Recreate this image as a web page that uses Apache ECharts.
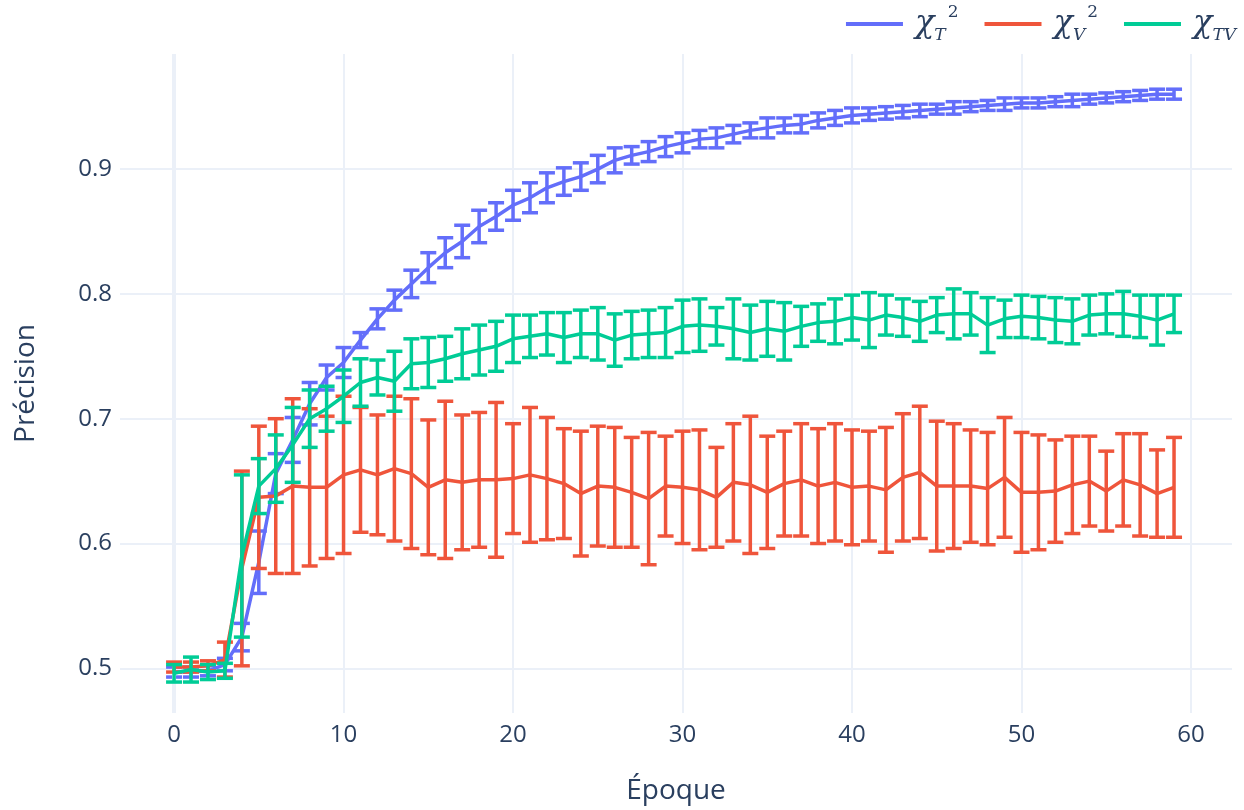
<!DOCTYPE html>
<html><head><meta charset="utf-8">
<script src="https://cdn.jsdelivr.net/npm/echarts@6/dist/echarts.min.js"></script>
<style>html,body{margin:0;padding:0;background:#fff}#c{width:1244px;height:810px}</style>
</head><body><div id="c"></div>
<script>
const epochs = [0,1,2,3,4,5,6,7,8,9,10,11,12,13,14,15,16,17,18,19,20,21,22,23,24,25,26,27,28,29,30,31,32,33,34,35,36,37,38,39,40,41,42,43,44,45,46,47,48,49,50,51,52,53,54,55,56,57,58,59];
const xTicks = [0,10,20,30,40,50,60];
const yTicks = [0.5,0.6,0.7,0.8,0.9];

const meanT2 = [0.497,0.497,0.498,0.503,0.525,0.585,0.656,0.683,0.712,0.733,0.745,0.763,0.780,0.795,0.808,0.821,0.833,0.842,0.854,0.862,0.871,0.877,0.885,0.890,0.894,0.900,0.907,0.911,0.914,0.918,0.921,0.924,0.925,0.928,0.931,0.933,0.935,0.936,0.939,0.941,0.943,0.944,0.945,0.946,0.947,0.948,0.949,0.950,0.951,0.952,0.953,0.953,0.954,0.955,0.956,0.957,0.958,0.959,0.960,0.960];
const errT2 = [0.004,0.004,0.004,0.005,0.011,0.025,0.016,0.018,0.017,0.010,0.012,0.006,0.008,0.008,0.011,0.012,0.012,0.013,0.013,0.011,0.012,0.012,0.012,0.011,0.011,0.011,0.010,0.007,0.008,0.008,0.008,0.007,0.008,0.007,0.006,0.008,0.006,0.007,0.006,0.006,0.006,0.005,0.005,0.005,0.005,0.004,0.005,0.004,0.004,0.005,0.004,0.004,0.004,0.005,0.004,0.004,0.004,0.004,0.004,0.004];

const meanV2 = [0.501,0.501,0.502,0.507,0.580,0.637,0.638,0.646,0.645,0.645,0.655,0.659,0.655,0.660,0.656,0.645,0.651,0.649,0.651,0.651,0.652,0.655,0.652,0.648,0.640,0.646,0.645,0.641,0.636,0.646,0.645,0.643,0.637,0.649,0.647,0.641,0.648,0.651,0.646,0.649,0.645,0.646,0.643,0.653,0.657,0.646,0.646,0.646,0.644,0.653,0.641,0.641,0.642,0.647,0.650,0.642,0.651,0.647,0.640,0.645];
const errV2 = [0.004,0.004,0.004,0.014,0.078,0.057,0.062,0.070,0.063,0.057,0.063,0.050,0.048,0.058,0.060,0.054,0.063,0.054,0.054,0.062,0.044,0.054,0.049,0.044,0.050,0.048,0.048,0.044,0.053,0.040,0.045,0.048,0.040,0.047,0.055,0.045,0.042,0.045,0.046,0.047,0.046,0.044,0.050,0.051,0.053,0.052,0.050,0.045,0.045,0.048,0.048,0.046,0.041,0.039,0.036,0.032,0.037,0.041,0.035,0.040];

const meanTV = [0.496,0.499,0.497,0.498,0.590,0.646,0.660,0.679,0.700,0.708,0.718,0.729,0.733,0.730,0.744,0.745,0.748,0.752,0.755,0.758,0.764,0.766,0.768,0.765,0.768,0.768,0.763,0.767,0.768,0.769,0.774,0.775,0.774,0.772,0.769,0.772,0.770,0.774,0.777,0.778,0.781,0.779,0.783,0.781,0.778,0.783,0.784,0.784,0.775,0.780,0.782,0.781,0.779,0.778,0.783,0.784,0.784,0.782,0.779,0.784];
const errTV = [0.007,0.010,0.006,0.006,0.065,0.022,0.027,0.030,0.023,0.018,0.021,0.019,0.014,0.024,0.020,0.020,0.018,0.020,0.020,0.020,0.019,0.017,0.017,0.020,0.019,0.021,0.021,0.019,0.019,0.020,0.021,0.021,0.015,0.024,0.022,0.022,0.023,0.016,0.015,0.018,0.018,0.022,0.016,0.015,0.016,0.014,0.020,0.017,0.022,0.015,0.017,0.017,0.018,0.018,0.016,0.016,0.018,0.017,0.020,0.015];

const names = ['T2','V2','TV'];
const colors = ['#636efa','#EF553B','#00cc96'];
const means = [meanT2, meanV2, meanTV];
const errs = [errT2, errV2, errTV];

const FONT = '"Open Sans", "Noto Sans", sans-serif';
const MATH = '"DejaVu Serif", serif';
const TXT = '#2a3f5f';
const GRID = '#EBF0F8';
const LW = 3.5;

function errRender(color){
  return function(params, api){
    const x = api.value(0), lo = api.value(1), hi = api.value(2);
    const p1 = api.coord([x, hi]), p2 = api.coord([x, lo]);
    const hw = 8;
    const style = {stroke: color, lineWidth: LW, fill: null};
    return {type:'group', children:[
      {type:'line', shape:{x1:p1[0],y1:p1[1],x2:p2[0],y2:p2[1]}, style: style},
      {type:'line', shape:{x1:p1[0]-hw,y1:p1[1],x2:p1[0]+hw,y2:p1[1]}, style: style},
      {type:'line', shape:{x1:p2[0]-hw,y1:p2[1],x2:p2[0]+hw,y2:p2[1]}, style: style}
    ]};
  };
}

const series = [{
  name: 'zero', type: 'line', data: [], silent: true, z: 1,
  markLine: {silent: true, symbol: 'none', label: {show: false},
    lineStyle: {color: GRID, width: 4, type: 'solid'},
    data: [{xAxis: 0}]}
}];
names.forEach(function(n, k){
  series.push({
    name: n, type: 'line', z: 3 + k*2,
    data: epochs.map(function(e, i){ return [e, means[k][i]]; }),
    showSymbol: false, symbol: 'none',
    lineStyle: {color: colors[k], width: LW},
    itemStyle: {color: colors[k]},
    emphasis: {disabled: true}
  });
  series.push({
    name: n, type: 'custom', z: 3 + k*2,
    renderItem: errRender(colors[k]),
    encode: {x: 0, y: [1, 2]},
    data: epochs.map(function(e, i){ return [e, means[k][i] - errs[k][i], means[k][i] + errs[k][i]]; }),
    silent: true
  });
});

const legendLabels = {
  T2: '{c|χ}{s|T}{p|2}',
  V2: '{c|χ}{s|V}{p|2}',
  TV: '{c|χ}{s|TV}'
};

const chart = echarts.init(document.getElementById('c'), null, {renderer: 'canvas'});
chart.setOption({
  animation: false,
  backgroundColor: '#fff',
  textStyle: {fontFamily: FONT},
  grid: {left: 120, right: 12, top: 54, bottom: 97, containLabel: false},
  legend: {
    data: names.map(function(n, k){ return {name: n, itemStyle: {color: colors[k]}}; }),
    top: 4, right: 8, padding: 0, icon: 'rect', itemWidth: 57, itemHeight: 4, itemGap: 26,
    formatter: function(n){ return legendLabels[n]; },
    textStyle: {
      color: TXT, padding: [0,0,0,7],
      rich: {
        c: {fontSize: 32, fontStyle: 'italic', fontFamily: MATH, color: TXT, lineHeight: 40, verticalAlign: 'middle'},
        s: {fontSize: 17, fontStyle: 'italic', fontFamily: MATH, color: TXT, verticalAlign: 'bottom', lineHeight: 17},
        p: {fontSize: 17, fontFamily: MATH, color: TXT, verticalAlign: 'top', lineHeight: 17, padding: [0,0,0,2]}
      }
    }
  },
  xAxis: {
    type: 'value', min: -3.19, max: 62.42,
    name: 'Époque', nameLocation: 'middle', nameGap: 64,
    nameTextStyle: {fontSize: 28, color: TXT, fontFamily: FONT},
    axisLine: {show: false},
    axisTick: {show: false, customValues: xTicks},
    axisLabel: {customValues: xTicks, fontSize: 24, color: TXT, margin: 10, fontFamily: FONT},
    splitLine: {show: true, lineStyle: {color: GRID, width: 2}}
  },
  yAxis: {
    type: 'value', min: 0.4642, max: 0.9922,
    name: 'Précision', nameLocation: 'middle', nameGap: 80, nameRotate: 90,
    nameTextStyle: {fontSize: 28, color: TXT, fontFamily: FONT},
    axisLine: {show: false},
    axisTick: {show: false, customValues: yTicks},
    axisLabel: {customValues: yTicks, fontSize: 24, color: TXT, margin: 8, fontFamily: FONT,
      formatter: function(v){ return String(Math.round(v*10)/10); }},
    splitLine: {show: true, lineStyle: {color: GRID, width: 2}}
  },
  series: series
});
</script></body></html>
